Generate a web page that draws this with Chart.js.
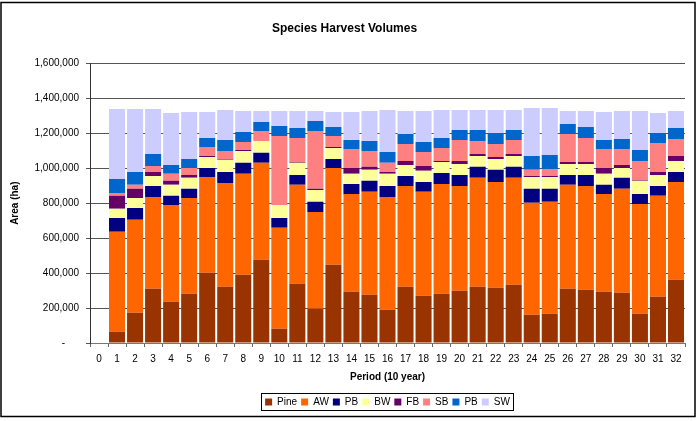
<!DOCTYPE html>
<html>
<head>
<meta charset="utf-8">
<script src="https://cdn.jsdelivr.net/npm/chart.js@4/dist/chart.umd.min.js"></script>
<style>
    html, body { margin: 0; padding: 0; background: #fff; }
    #wrap { width: 698px; height: 421px; }
</style>
</head>
<body>
<div id="wrap"><canvas id="harvestChart" width="698" height="421"></canvas></div>
<script>
// Periodos (10 años)
const periods = ['0', '1', '2', '3', '4', '5', '6', '7', '8', '9', '10', '11', '12', '13', '14', '15', '16',
    '17', '18', '19', '20', '21', '22', '23', '24', '25', '26', '27', '28', '29', '30', '31', '32'];

// Área por especie (ha)
const pine = [null, 65000, 173000, 310000, 236000, 282000, 402000, 322000, 390000, 476000, 82000, 339000, 196000,
    448000, 293000, 276000, 190000, 322000, 270000, 282000, 299000, 322000, 316000, 333000, 162000, 168000,
    310000, 305000, 293000, 288000, 168000, 265000, 362000];
const aw = [null, 571000, 532000, 526000, 554000, 548000, 548000, 594000, 578000, 555000, 577000, 566000, 554000,
    554000, 560000, 589000, 646000, 577000, 595000, 628000, 600000, 623000, 606000, 612000, 640000, 640000,
    595000, 594000, 560000, 594000, 628000, 577000, 560000];
const pb = [null, 80000, 68000, 63000, 52000, 52000, 52000, 63000, 63000, 57000, 57000, 57000, 58000,
    51000, 57000, 63000, 63000, 57000, 57000, 63000, 63000, 63000, 69000, 63000, 80000, 74000,
    57000, 63000, 52000, 63000, 57000, 57000, 57000];
const bw = [null, 52000, 57000, 57000, 63000, 63000, 63000, 69000, 68000, 68000, 74000, 69000, 68000,
    63000, 58000, 63000, 69000, 63000, 63000, 63000, 63000, 62000, 62000, 62000, 68000, 68000,
    63000, 63000, 63000, 57000, 75000, 63000, 63000];
const fb = [null, 74000, 52000, 23000, 23000, 17000, 5000, 5000, 6000, 0, 0, 5000, 6000,
    6000, 34000, 17000, 11000, 23000, 28000, 6000, 17000, 12000, 12000, 12000, 6000, 6000,
    11000, 11000, 34000, 17000, 5000, 17000, 28000];
const sb = [null, 17000, 23000, 34000, 40000, 40000, 52000, 46000, 45000, 57000, 395000, 137000, 331000,
    63000, 108000, 91000, 52000, 97000, 80000, 74000, 120000, 74000, 74000, 80000, 35000, 40000,
    160000, 137000, 108000, 91000, 109000, 166000, 98000];
const pb2 = [null, 80000, 74000, 69000, 51000, 51000, 51000, 63000, 58000, 52000, 57000, 58000, 58000,
    51000, 52000, 57000, 62000, 57000, 57000, 57000, 57000, 63000, 63000, 57000, 79000, 80000,
    57000, 63000, 52000, 58000, 63000, 57000, 63000];
const sw = [null, 400000, 360000, 257000, 297000, 269000, 149000, 171000, 120000, 63000, 86000, 97000, 57000,
    86000, 160000, 172000, 240000, 132000, 178000, 160000, 114000, 114000, 131000, 114000, 275000, 269000,
    75000, 92000, 160000, 160000, 223000, 114000, 97000];

const yTicks = [0, 200000, 400000, 600000, 800000, 1000000, 1200000, 1400000, 1600000];

Chart.defaults.font.family = "Arial, 'Liberation Sans', sans-serif";
Chart.defaults.color = '#000';

function serie(label, data, color) {
    return { label: label, data: data, backgroundColor: color, borderWidth: 0 };
}

// Marco exterior del gráfico
const chartFrame = {
    id: 'chartFrame',
    afterDraw(chart) {
        const ctx = chart.ctx;
        ctx.save();
        ctx.strokeStyle = '#000';
        ctx.lineWidth = 1.5;
        ctx.strokeRect(1, 2.5, 694, 414);
        ctx.restore();
    }
};

// Centrar la leyenda bajo el área del gráfico (como en Excel)
const legendCenter = {
    id: 'legendCenter',
    afterLayout(chart) {
        const legend = chart.legend;
        if (!legend) return;
        const shift = (chart.chartArea.left + chart.chartArea.right) / 2 - (legend.left + legend.right) / 2;
        legend.left += shift;
        legend.right += shift;
    }
};

// Recuadro de la leyenda
const legendBox = {
    id: 'legendBox',
    afterDraw(chart) {
        const boxes = chart.legend && chart.legend.legendHitBoxes;
        if (!boxes || !boxes.length) return;
        const first = boxes[0];
        const last = boxes[boxes.length - 1];
        const ctx = chart.ctx;
        ctx.save();
        ctx.strokeStyle = '#000';
        ctx.lineWidth = 1;
        ctx.strokeRect(Math.round(first.left) - 3.5, Math.round(first.top) - 3.5,
            Math.round(last.left + last.width - first.left) + 7, Math.round(first.height) + 7);
        ctx.restore();
    }
};

new Chart(document.getElementById('harvestChart'), {
    type: 'bar',
    data: {
        labels: periods,
        datasets: [
            serie('Pine', pine, '#993300'),
            serie('AW', aw, '#FF6600'),
            serie('PB', pb, '#000080'),
            serie('BW', bw, '#FFFF99'),
            serie('FB', fb, '#660066'),
            serie('SB', sb, '#FF8080'),
            serie('PB', pb2, '#0066CC'),
            serie('SW', sw, '#CCCCFF')
        ]
    },
    options: {
        responsive: false,
        animation: false,
        devicePixelRatio: 1,
        layout: { padding: { left: 4, right: 13, top: 0, bottom: 4 } },
        datasets: { bar: { barPercentage: 0.89, categoryPercentage: 1.0 } },
        plugins: {
            tooltip: { enabled: false },
            title: {
                display: true,
                text: 'Species Harvest Volumes',
                font: { size: 12, weight: 'bold' },
                color: '#000',
                padding: { top: 21, bottom: 28 }
            },
            legend: {
                position: 'bottom',
                labels: {
                    boxWidth: 7,
                    boxHeight: 7,
                    padding: 4,
                    font: { size: 10 },
                    color: '#000'
                }
            }
        },
        scales: {
            x: {
                stacked: true,
                grid: { drawOnChartArea: false, tickLength: 4, color: '#666' },
                border: { color: '#777', width: 1 },
                ticks: { font: { size: 10 }, padding: 6, maxRotation: 0, autoSkip: false },
                title: {
                    display: true,
                    text: 'Period (10 year)',
                    font: { size: 10, weight: 'bold' },
                    padding: { top: 0, bottom: 10 }
                },
                afterFit: function(scale) { scale.height = 50; }
            },
            y: {
                stacked: true,
                min: 0,
                max: 1600000,
                afterBuildTicks: function(scale) {
                    scale.ticks = yTicks.map(v => ({ value: v }));
                },
                grid: { color: '#555', tickLength: 4 },
                border: { color: '#333', width: 1 },
                ticks: {
                    font: { size: 10 },
                    padding: 7,
                    callback: function(value) {
                        return value === 0 ? '-     ' : value.toLocaleString('en-US');
                    }
                },
                title: {
                    display: true,
                    text: 'Area (ha)',
                    font: { size: 10, weight: 'bold' },
                    padding: { top: 5, bottom: 0 }
                },
                afterFit: function(scale) { scale.width = 86; }
            }
        }
    },
    plugins: [legendCenter, chartFrame, legendBox]
});
</script>
</body>
</html>
